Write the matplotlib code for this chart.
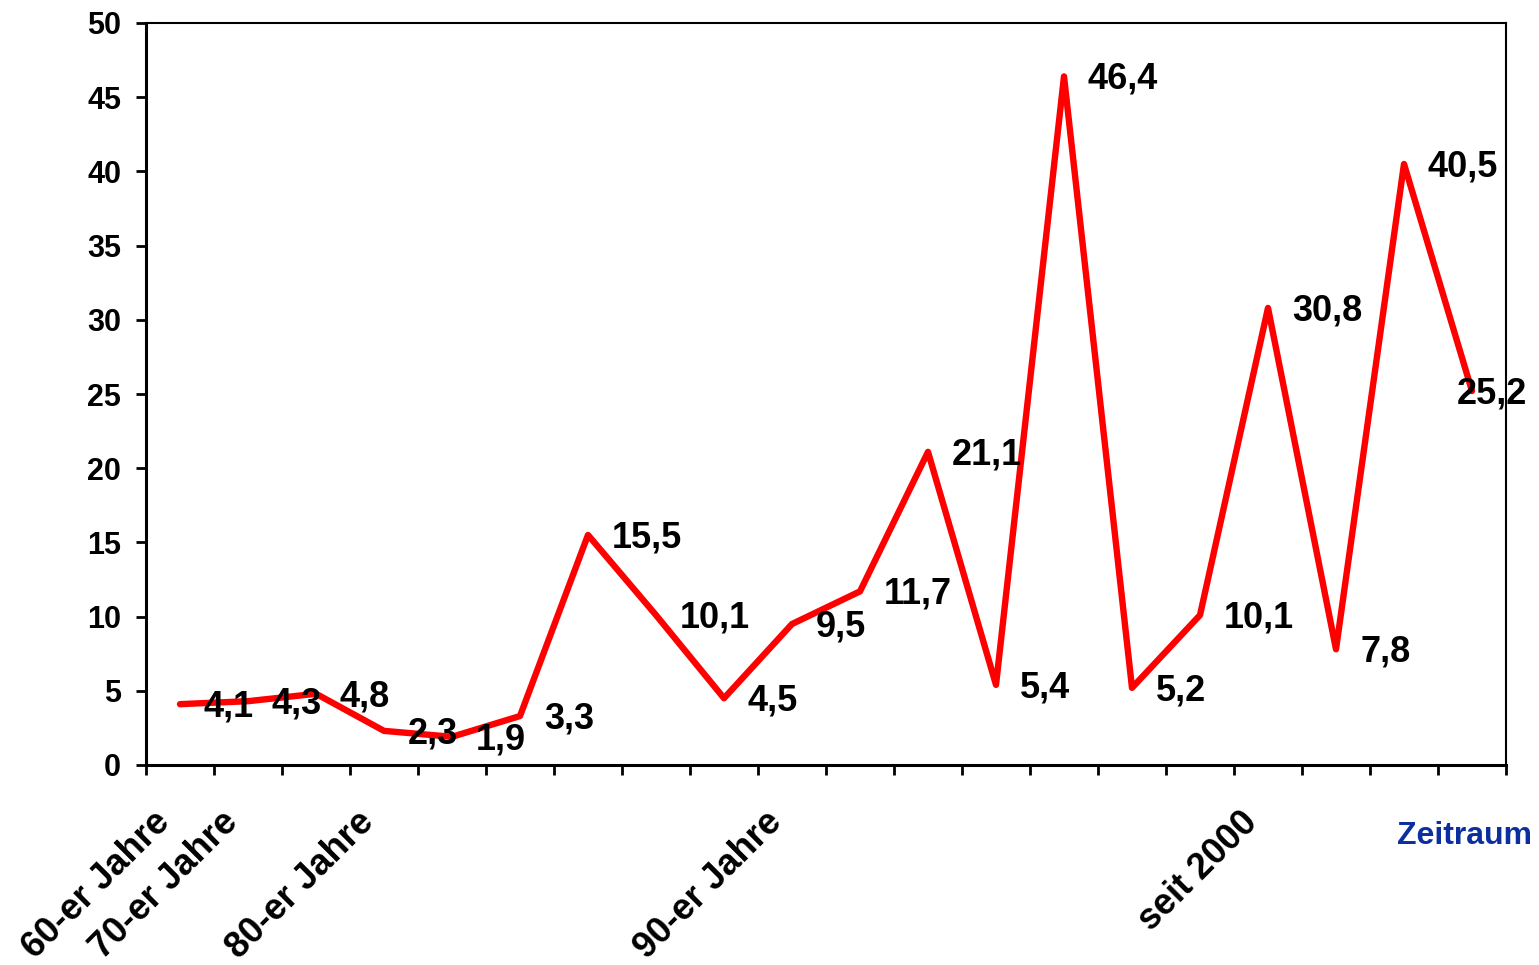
import matplotlib
matplotlib.use("Agg")
import matplotlib.pyplot as plt

plt.rcParams['font.family'] = ['Liberation Sans', 'DejaVu Sans']
plt.rcParams['font.weight'] = 'bold'

values = [4.1, 4.3, 4.8, 2.3, 1.9, 3.3, 15.5, 10.1, 4.5, 9.5,
          11.7, 21.1, 5.4, 46.4, 5.2, 10.1, 30.8, 7.8, 40.5, 25.2]
value_labels = ["4,1", "4,3", "4,8", "2,3", "1,9", "3,3", "15,5", "10,1", "4,5", "9,5",
                "11,7", "21,1", "5,4", "46,4", "5,2", "10,1", "30,8", "7,8", "40,5", "25,2"]
category_positions = [0, 1, 3, 9, 16]
category_labels = ["60-er Jahre", "70-er Jahre", "80-er Jahre", "90-er Jahre", "seit 2000"]
y_ticks = [0, 5, 10, 15, 20, 25, 30, 35, 40, 45, 50]
x_axis_title = "Zeitraum"

fig = plt.figure(figsize=(15.39, 9.65), dpi=100)
ax = fig.add_axes([146/1539, 1 - 765/965, (1506-146)/1539, (765-23)/965])

x = list(range(len(values)))
ax.plot(x, values, color='#FF0000', linewidth=4.6,
        solid_joinstyle='round', solid_capstyle='round', zorder=3)

ax.set_xlim(-0.5, len(values) - 0.5)
ax.set_ylim(0, 50)
ax.set_yticks(y_ticks)
ax.set_yticklabels([str(v) for v in y_ticks], fontsize=22, fontweight='bold')
ax.tick_params(axis='y', length=7, width=2, pad=11, direction='out')

bounds = [k - 0.5 for k in range(len(values) + 1)]
ax.set_xticks(bounds)
ax.set_xticklabels([])
ax.tick_params(axis='x', length=7, width=2, direction='out')

ax.spines['left'].set_linewidth(2.2)
ax.spines['bottom'].set_linewidth(2.2)
ax.spines['top'].set_linewidth(1.5)
ax.spines['right'].set_linewidth(1.5)

for i, (v, lab) in enumerate(zip(values, value_labels)):
    dx = 24 if i < len(values) - 1 else -15
    ax.annotate(lab, xy=(i, v), xytext=(dx, -3), textcoords='offset pixels',
                ha='left', va='center', fontsize=26, fontweight='bold',
                color='black', zorder=4, annotation_clip=False)

for pos, lab in zip(category_positions, category_labels):
    ax.annotate(lab, xy=(pos, 0), xytext=(-28, -40), textcoords='offset pixels',
                ha='right', va='top', rotation=45, rotation_mode='anchor',
                fontsize=26, fontweight='bold', color='black',
                annotation_clip=False)

fig.text(1465/1539, 1 - 836/965, x_axis_title, ha='center', va='center',
         fontsize=23, fontweight='bold', color='#0B2F9E')

fig.savefig("out.png", dpi=100)
